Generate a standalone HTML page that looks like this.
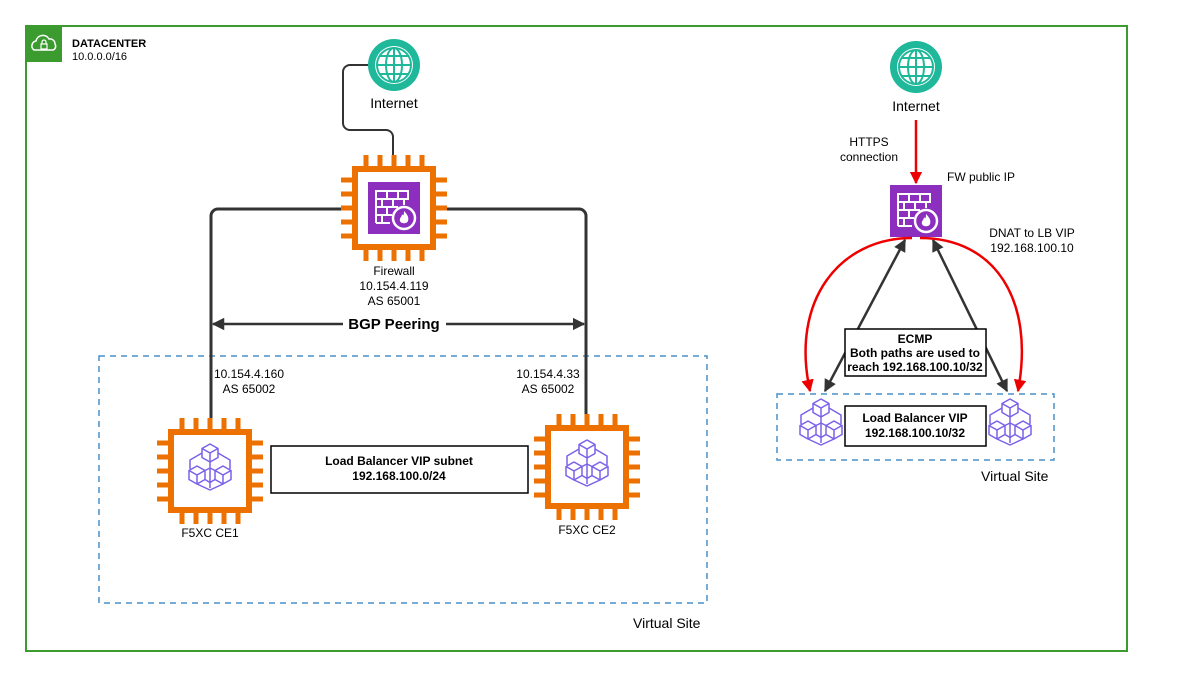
<!DOCTYPE html>
<html><head><meta charset="utf-8"><style>
html,body{margin:0;padding:0;background:#fff}
svg{display:block}
text{font-family:"Liberation Sans",Arial,sans-serif;fill:#000}
</style></head><body>
<svg width="1200" height="678" viewBox="0 0 1200 678" xmlns="http://www.w3.org/2000/svg">
<defs>
<marker id="ab" viewBox="0 0 10 10" refX="9" refY="5" markerWidth="5" markerHeight="5" orient="auto-start-reverse"><path d="M0,0 L10,5 L0,10 z" fill="#333"/></marker>
<marker id="ar" viewBox="0 0 10 10" refX="9" refY="5" markerWidth="5" markerHeight="5" orient="auto-start-reverse"><path d="M0,0 L10,5 L0,10 z" fill="#e00"/></marker>
<g id="chip">
  <rect x="-39" y="-39" width="78" height="78" fill="#fff" stroke="#ED7100" stroke-width="6"/>
  <g stroke="#ED7100" stroke-width="5">
    <path d="M-28,-42V-53M-14,-42V-53M0,-42V-53M14,-42V-53M28,-42V-53"/>
    <path d="M-28,42V53M-14,42V53M0,42V53M14,42V53M28,42V53"/>
    <path d="M-42,-28H-53M-42,-14H-53M-42,0H-53M-42,14H-53M-42,28H-53"/>
    <path d="M42,-28H53M42,-14H53M42,0H53M42,14H53M42,28H53"/>
  </g>
</g>
<g id="fw">
  <rect x="-26" y="-26" width="52" height="52" fill="#8C2FBF"/>
  <g fill="none" stroke="#fff" stroke-width="2">
    <path d="M-18,-17H14V-9H-18zM-18,-9H14M-18,-1H4M-18,7H-2M-18,15H-4"/>
    <path d="M-7,-17V-9M4,-17V-9M-12,-9V-1M-1,-9V-1M10,-9V-3M-7,-1V7M-12,7V15"/>
    <path d="M-18,-17V15"/>
  </g>
  <circle cx="10" cy="10" r="11" fill="#8C2FBF" stroke="#fff" stroke-width="2.5"/>
  <path d="M10,3 C14,7 15,10 14,13 C13,16 7,16 6,13 C5,10 8,9 8,6 C9,8 10,8 10,3z" fill="#fff"/>
</g>
<g id="globe">
  <circle r="26" fill="#1FB89A"/>
  <circle r="19" fill="#fff"/>
  <g fill="none" stroke="#1FB89A" stroke-width="2">
    <circle r="17"/><ellipse rx="8" ry="17"/>
    <path d="M0,-17V17M-17,0H17M-14,-9H14M-14,9H14"/>
  </g>
</g>
<g id="cubes" fill="none" stroke="#7B61E8" stroke-width="1.5" stroke-linejoin="round">
  <path d="M0,-22 L8,-17.5 L8,-8.5 L0,-4 L-8,-8.5 L-8,-17.5 Z M-8,-17.5 L0,-13 L8,-17.5 M0,-13V-4"/>
  <path d="M-13,0 L-5,4.5 L-5,13.5 L-13,18 L-21,13.5 L-21,4.5 Z M-21,4.5 L-13,9 L-5,4.5 M-13,9V18"/>
  <path d="M13,0 L21,4.5 L21,13.5 L13,18 L5,13.5 L5,4.5 Z M5,4.5 L13,9 L21,4.5 M13,9V18"/>
  <path d="M8,-13 L20,-6 V3 M-8,-13 L-20,-6 V3 M0,-4 V22 M-5,13.5 L0,16.5 L5,13.5 M-13,18 L0,24 L13,18 M-5,4.5 L0,2 L5,4.5"/>
</g>
</defs>

<!-- datacenter -->
<rect x="26" y="26" width="1101" height="625" fill="none" stroke="#3B9B2E" stroke-width="2"/>
<rect x="26" y="26" width="36" height="36" fill="#3B9B2E"/>
<path d="M34,50 a5,5 0 0 1 2,-9 a7,7 0 0 1 13,-2 a5,5 0 0 1 6,5 a4,4 0 0 1 -2,6 z" fill="none" stroke="#fff" stroke-width="1.5"/>
<rect x="41" y="44" width="6" height="5" fill="none" stroke="#fff" stroke-width="1.2"/>
<path d="M42,44 v-2 a2,2 0 0 1 4,0 v2" fill="none" stroke="#fff" stroke-width="1.2"/>
<text x="72" y="47" font-size="11" font-weight="bold" fill="#232f3e">DATACENTER</text>
<text x="72" y="60" font-size="11" fill="#232f3e">10.0.0.0/16</text>

<!-- virtual site left -->
<rect x="99" y="356" width="608" height="247" fill="none" stroke="#4A90C8" stroke-width="1.5" stroke-dasharray="6,5"/>
<text x="633" y="628" font-size="14">Virtual Site</text>

<!-- lines left -->
<path d="M368,65 H350 a7,7 0 0 0 -7,7 V123 a7,7 0 0 0 7,7 H386 a7,7 0 0 1 7,7 V155" fill="none" stroke="#333" stroke-width="2"/>
<path d="M342,209 H218 a7,7 0 0 0 -7,7 V418" fill="none" stroke="#333" stroke-width="3"/>
<path d="M446,209 H579 a7,7 0 0 1 7,7 V418" fill="none" stroke="#333" stroke-width="3"/>
<path d="M213,324 H343 M446,324 H584" stroke="#333" stroke-width="2.5" marker-start="url(#ab)" marker-end="url(#ab)" fill="none"/>
<text x="394" y="329" font-size="15" font-weight="bold" text-anchor="middle">BGP Peering</text>

<use href="#globe" x="394" y="65"/>
<text x="394" y="108" font-size="14" text-anchor="middle">Internet</text>

<use href="#chip" x="394" y="208"/>
<use href="#fw" x="394" y="208"/>
<g font-size="12" text-anchor="middle">
<text x="394" y="275">Firewall</text>
<text x="394" y="290">10.154.4.119</text>
<text x="394" y="305">AS 65001</text>
<text x="249" y="378">10.154.4.160</text>
<text x="249" y="393">AS 65002</text>
<text x="548" y="378">10.154.4.33</text>
<text x="548" y="393">AS 65002</text>
<text x="210" y="537">F5XC CE1</text>
<text x="587" y="534">F5XC CE2</text>
</g>

<use href="#chip" x="210" y="471"/>
<use href="#cubes" x="210" y="466"/>
<use href="#chip" x="587" y="467"/>
<use href="#cubes" x="587" y="462"/>

<rect x="271" y="446" width="257" height="47" fill="none" stroke="#000" stroke-width="1.5"/>
<text x="399" y="465" font-size="12" font-weight="bold" text-anchor="middle">Load Balancer VIP subnet</text>
<text x="399" y="480" font-size="12" font-weight="bold" text-anchor="middle">192.168.100.0/24</text>

<!-- right side -->
<use href="#globe" x="916" y="67"/>
<text x="916" y="111" font-size="14" text-anchor="middle">Internet</text>
<path d="M916,120 V183" stroke="#e00" stroke-width="2.5" marker-end="url(#ar)"/>
<text x="869" y="146" font-size="12" text-anchor="middle">HTTPS</text>
<text x="869" y="161" font-size="12" text-anchor="middle">connection</text>
<text x="947" y="181" font-size="12">FW public IP</text>
<text x="1032" y="237" font-size="12" text-anchor="middle">DNAT to LB VIP</text>
<text x="1032" y="252" font-size="12" text-anchor="middle">192.168.100.10</text>
<use href="#fw" x="916" y="211"/>

<rect x="777" y="394" width="277" height="66" fill="none" stroke="#4A90C8" stroke-width="1.5" stroke-dasharray="6,5"/>
<text x="981" y="481" font-size="14">Virtual Site</text>

<path d="M905,240 L825,391" stroke="#333" stroke-width="2.5" marker-start="url(#ab)" marker-end="url(#ab)"/>
<path d="M933,240 L1007,391" stroke="#333" stroke-width="2.5" marker-start="url(#ab)" marker-end="url(#ab)"/>
<path d="M912,238 C840,238 790,300 810,391" fill="none" stroke="#e00" stroke-width="2.5" marker-end="url(#ar)"/>
<path d="M920,238 C995,238 1035,300 1018,391" fill="none" stroke="#e00" stroke-width="2.5" marker-end="url(#ar)"/>

<rect x="845" y="329" width="141" height="47" fill="#fff" stroke="#000" stroke-width="1.5"/>
<g font-size="12" font-weight="bold" text-anchor="middle">
<text x="915" y="343">ECMP</text>
<text x="915" y="357">Both paths are used to</text>
<text x="915" y="371">reach 192.168.100.10/32</text>
</g>
<rect x="845" y="406" width="141" height="40" fill="#fff" stroke="#000" stroke-width="1.5"/>
<text x="915" y="422" font-size="12" font-weight="bold" text-anchor="middle">Load Balancer VIP</text>
<text x="915" y="437" font-size="12" font-weight="bold" text-anchor="middle">192.168.100.10/32</text>
<use href="#cubes" x="821" y="421"/>
<use href="#cubes" x="1010" y="421"/>
</svg>
</body></html>
